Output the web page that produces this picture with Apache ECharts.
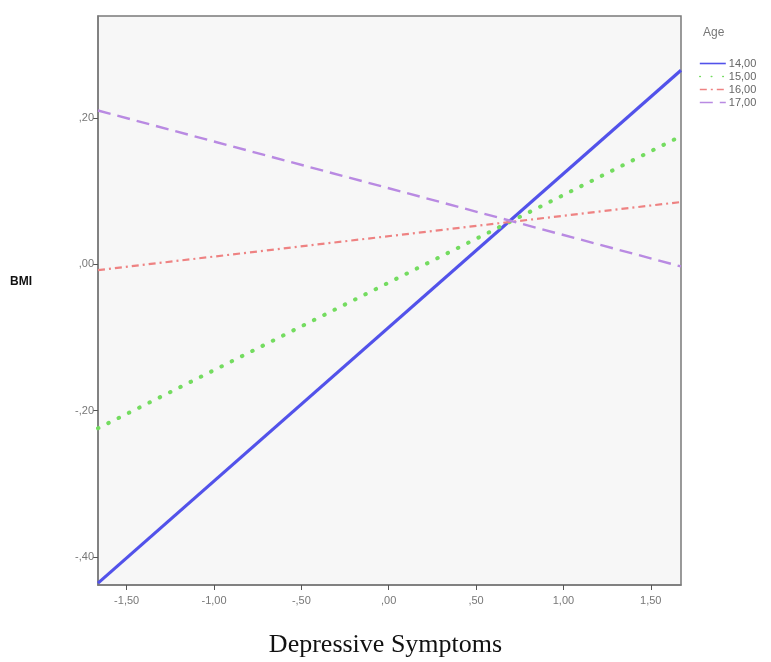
<!DOCTYPE html>
<html>
<head>
<meta charset="utf-8">
<script src="https://cdn.jsdelivr.net/npm/echarts@6/dist/echarts.min.js"></script>
<style>
html,body{margin:0;padding:0;background:#fff;}
#chart{width:771px;height:662px;}
</style>
</head>
<body>
<div id="chart"></div>
<script>
// Data
var xRange = [-1.664, 1.673];           // depressive symptoms range (line endpoints)
var ageNames = ['14,00', '15,00', '16,00', '17,00'];
var age14 = [-0.4355, 0.265];
var age15 = [-0.224, 0.175];
var age16 = [-0.008, 0.085];
var age17 = [0.210, -0.003];
var xTicks = [-1.5, -1.0, -0.5, 0, 0.5, 1.0, 1.5];
var xTickLabels = ['-1,50', '-1,00', '-,50', ',00', ',50', '1,00', '1,50'];
var yTicks = [-0.4, -0.2, 0, 0.2];
var yTickLabels = ['-,40', '-,20', ',00', ',20'];
var yRange = [-0.438, 0.339];

function pts(vals) { return [[xRange[0], vals[0]], [xRange[1], vals[1]]]; }
function lbl(ticks, labels) {
  return function (v) {
    for (var i = 0; i < ticks.length; i++) if (Math.abs(ticks[i] - v) < 1e-6) return labels[i];
    return '';
  };
}

var styles = [
  {color: '#5252ea', width: 3.2, type: 'solid', cap: 'butt'},
  {color: '#74dc60', width: 4, type: [0.5, 11], cap: 'round'},
  {color: '#ee8282', width: 2.2, type: [7, 4, 2, 4], cap: 'butt'},
  {color: '#b98ae2', width: 2.4, type: [13, 7], cap: 'butt'}
];
var vals = [age14, age15, age16, age17];

var chart = echarts.init(document.getElementById('chart'), null, {renderer: 'canvas'});
chart.setOption({
  animation: false,
  backgroundColor: '#ffffff',
  grid: {left: 98, top: 16, right: 90, bottom: 77, show: true, backgroundColor: '#f7f7f7', borderColor: '#7a7a7a', borderWidth: 1.5},
  legend: {
    orient: 'vertical', left: 694, top: 53, itemWidth: 26, itemHeight: 10, itemGap: 2,
    itemStyle: {opacity: 0},
    lineStyle: {width: 1.6},
    textStyle: {fontSize: 11, color: '#666', fontFamily: 'Liberation Sans', padding: [0, 0, 0, -2]},
    data: ageNames
  },
  xAxis: {
    type: 'value', min: xRange[0], max: xRange[1],
    splitLine: {show: false},
    axisLine: {show: true, onZero: false, lineStyle: {color: '#7a7a7a', width: 1.5}},
    axisTick: {show: true, customValues: xTicks, length: 5, lineStyle: {color: '#555'}},
    axisLabel: {customValues: xTicks, formatter: lbl(xTicks, xTickLabels), color: '#777', fontSize: 11, fontFamily: 'Liberation Sans', margin: 10}
  },
  yAxis: {
    type: 'value', min: yRange[0], max: yRange[1],
    splitLine: {show: false},
    axisLine: {show: true, onZero: false, lineStyle: {color: '#7a7a7a', width: 1.5}},
    axisTick: {show: true, customValues: yTicks, length: 5, lineStyle: {color: '#555'}},
    axisLabel: {customValues: yTicks, formatter: lbl(yTicks, yTickLabels), color: '#777', fontSize: 11, fontFamily: 'Liberation Sans', margin: 4}
  },
  graphic: [
    {type: 'text', left: 703, top: 27, style: {text: 'Age', fontSize: 12, fill: '#777', fontFamily: 'Liberation Sans'}},
    {type: 'text', left: 10, top: 276, style: {text: 'BMI', fontSize: 12, fontWeight: 'bold', fill: '#111', fontFamily: 'Liberation Sans'}},
    {type: 'text', left: 'center', top: 632, style: {text: 'Depressive Symptoms', fontSize: 26, fill: '#111', fontFamily: 'Liberation Serif'}}
  ],
  series: vals.map(function (v, i) {
    return {
      name: ageNames[i], type: 'line', data: pts(v), symbol: 'none',
      lineStyle: {color: styles[i].color, width: styles[i].width, type: styles[i].type, cap: styles[i].cap},
      itemStyle: {color: styles[i].color}
    };
  })
});
</script>
</body>
</html>
